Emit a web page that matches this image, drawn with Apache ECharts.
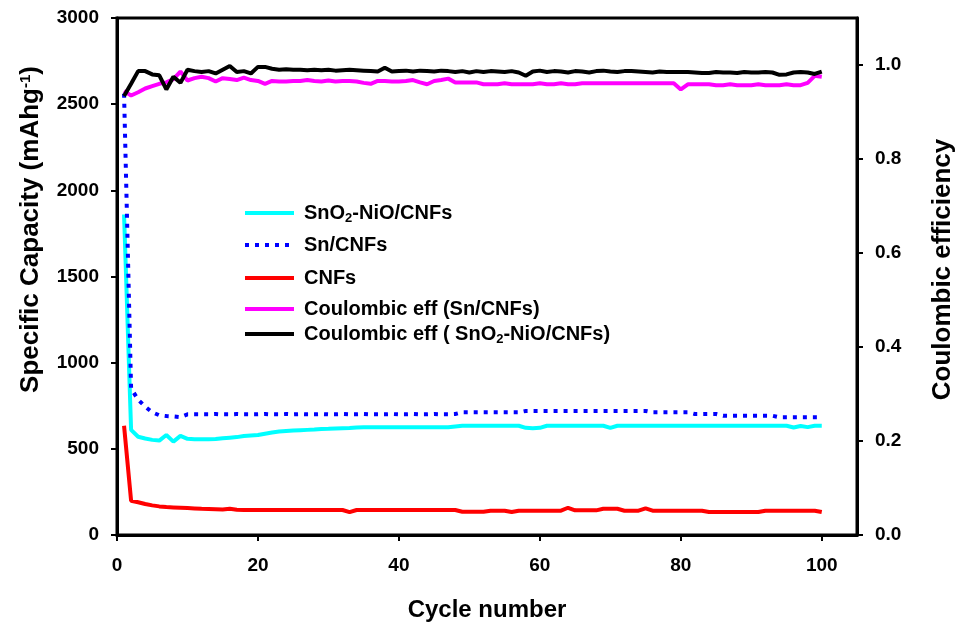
<!DOCTYPE html>
<html>
<head>
<meta charset="utf-8">
<script src="https://cdn.jsdelivr.net/npm/echarts@6/dist/echarts.min.js"></script>
<style>
  html, body { margin: 0; padding: 0; background: #fff; }
  #chart { width: 958px; height: 625px; }
</style>
</head>
<body>
<div id="chart"></div>
<script>
// Cycle index (x) shared by all series
const cycles = Array.from({ length: 100 }, (_, i) => i + 1);

// Specific capacity, mAh/g (left axis)
const capSnO2NiO = [1860,610,570,560,552,548,580,542,575,558,
  556,555,555,557,562,565,568,575,578,580,
  588,595,600,603,606,608,610,612,615,616,
  618,620,621,624,625,625,625,625,625,625,
  625,625,625,625,625,625,625,630,634,634,
  634,634,634,634,634,634,634,622,620,622,
  634,634,634,634,634,634,634,634,634,622,
  634,634,634,634,634,634,634,634,634,634,
  634,634,634,634,634,634,634,634,634,634,
  634,634,634,634,634,624,632,626,634,634];

const capSn = [2560,850,785,745,712,695,690,688,684,700,
  700,700,700,702,700,700,702,700,700,700,
  702,700,700,702,700,702,700,700,702,700,
  700,702,700,700,702,700,700,700,702,700,
  700,702,700,700,702,700,700,702,712,712,
  712,712,712,712,712,712,712,720,720,720,
  720,720,720,720,720,720,720,720,720,720,
  720,720,720,720,720,712,712,712,712,712,
  712,702,702,702,702,692,692,692,692,692,
  692,692,692,683,683,683,683,683,683,683];

const capCNF = [634,199,190,180,172,166,162,160,158,156,
  154,152,151,150,148,152,147,145,145,145,
  145,145,145,145,145,145,145,145,145,145,
  145,145,133,145,145,145,145,145,145,145,
  145,145,145,145,145,145,145,145,135,135,
  135,135,141,141,141,133,141,141,141,141,
  141,141,141,158,143,143,143,143,152,152,
  152,141,141,141,155,141,141,141,141,141,
  141,141,141,133,133,133,133,133,133,133,
  133,141,141,141,141,141,141,141,141,133];

// Coulombic efficiency (right axis)
const ceSn = [0.945,0.935,0.942,0.950,0.955,0.960,0.963,0.970,0.986,0.967,
  0.972,0.975,0.972,0.965,0.972,0.970,0.968,0.973,0.968,0.966,
  0.960,0.966,0.965,0.965,0.966,0.966,0.968,0.966,0.965,0.967,
  0.965,0.966,0.966,0.965,0.962,0.960,0.966,0.966,0.965,0.965,
  0.966,0.968,0.963,0.959,0.966,0.968,0.971,0.963,0.963,0.963,
  0.963,0.959,0.959,0.959,0.961,0.959,0.959,0.959,0.959,0.961,
  0.959,0.959,0.961,0.959,0.959,0.961,0.961,0.961,0.961,0.961,
  0.961,0.961,0.961,0.961,0.961,0.961,0.961,0.961,0.961,0.948,
  0.959,0.959,0.959,0.959,0.957,0.957,0.959,0.957,0.957,0.957,
  0.959,0.957,0.957,0.957,0.959,0.957,0.957,0.962,0.977,0.975];

const ceSnO2NiO = [0.934,0.960,0.987,0.987,0.980,0.978,0.948,0.975,0.962,0.990,
  0.987,0.985,0.987,0.982,0.990,0.998,0.985,0.987,0.982,0.996,
  0.996,0.992,0.990,0.991,0.990,0.990,0.989,0.990,0.989,0.990,
  0.988,0.989,0.990,0.989,0.988,0.987,0.986,0.994,0.986,0.987,
  0.988,0.986,0.988,0.987,0.986,0.988,0.987,0.985,0.987,0.984,
  0.987,0.985,0.987,0.986,0.985,0.987,0.984,0.977,0.986,0.988,
  0.985,0.987,0.986,0.984,0.987,0.986,0.984,0.987,0.988,0.986,
  0.985,0.987,0.987,0.986,0.985,0.984,0.986,0.985,0.985,0.985,
  0.985,0.984,0.983,0.983,0.985,0.984,0.984,0.983,0.985,0.984,
  0.984,0.985,0.984,0.979,0.980,0.984,0.985,0.984,0.981,0.986];

// Tick positions
const xTicks = [0, 20, 40, 60, 80, 100];
const ceTicks = [0, 0.2, 0.4, 0.6, 0.8, 1.0];

const seriesNames = ['SnO2-NiO/CNFs', 'Sn/CNFs', 'CNFs',
  'Coulombic eff (Sn/CNFs)', 'Coulombic eff ( SnO2-NiO/CNFs)'];

const FONT = '"Liberation Sans", Arial, Helvetica, sans-serif';

function pairs(ys) { return cycles.map((c, i) => [c, ys[i]]); }

// Legend text with a real subscript for "O2"
function legendLabel(name) {
  const parts = name.split('SnO2');
  if (parts.length === 1) return '{t|' + name + '}';
  return '{t|' + parts[0] + 'SnO}{sub|2}{t|' + parts[1] + '}';
}

const chart = echarts.init(document.getElementById('chart'), null, { renderer: 'canvas' });

const axisLine = { show: true, lineStyle: { color: '#000', width: 3 } };
const axisTick = { show: true, length: 6, lineStyle: { color: '#000', width: 2 } };
const tickLabel = { color: '#000', fontFamily: FONT, fontWeight: 'bold', fontSize: 19, margin: 18 };

// One legend block per entry, rows spaced as in the figure
const legendTops = [203, 235, 268, 299, 324];
const legends = seriesNames.map((name, i) => ({
  orient: 'vertical',
  left: 243, top: legendTops[i], padding: 0,
  itemWidth: 49, itemHeight: 14,
  data: [name],
  selectedMode: false,
  formatter: legendLabel,
  itemStyle: { opacity: 0 },
  lineStyle: { width: 4 },
  textStyle: {
    color: '#000', fontFamily: FONT, fontWeight: 'bold', fontSize: 20,
    padding: [0, 0, 0, 5],
    rich: {
      t: { color: '#000', fontFamily: FONT, fontWeight: 'bold', fontSize: 20, lineHeight: 24 },
      sub: { color: '#000', fontFamily: FONT, fontWeight: 'bold', fontSize: 13, lineHeight: 13, verticalAlign: 'bottom' }
    }
  }
}));

chart.setOption({
  animation: false,
  backgroundColor: '#fff',
  grid: {
    left: 117, right: 101, top: 18, bottom: 90,
    outerBoundsMode: 'none',
    show: true, borderColor: '#000', borderWidth: 3, backgroundColor: 'transparent'
  },
  legend: legends,
  xAxis: {
    type: 'value', min: 0, max: 105,
    name: 'Cycle number', nameLocation: 'middle', nameGap: 63,
    nameTextStyle: { color: '#000', fontFamily: FONT, fontWeight: 'bold', fontSize: 24 },
    axisLine, axisTick: Object.assign({ customValues: xTicks }, axisTick),
    axisLabel: Object.assign({ customValues: xTicks }, tickLabel, { margin: 21 }),
    splitLine: { show: false }
  },
  yAxis: [
    {
      type: 'value', min: 0, max: 3000, interval: 500, position: 'left',
      name: 'Specific Capacity (mAhg{sup|-1})', nameLocation: 'middle', nameGap: 73,
      nameTextStyle: {
        color: '#000', fontFamily: FONT, fontWeight: 'bold', fontSize: 26,
        padding: [0, 0, 0, 94],
        rich: {
          sup: { color: '#000', fontFamily: FONT, fontWeight: 'bold', fontSize: 15, verticalAlign: 'top', lineHeight: 15 }
        }
      },
      axisLine, axisTick,
      axisLabel: Object.assign({ formatter: v => String(v) }, tickLabel),
      splitLine: { show: false }
    },
    {
      type: 'value', min: 0, max: 1.1, position: 'right',
      name: 'Coulombic efficiency', nameLocation: 'middle', nameGap: 73,
      nameTextStyle: {
        color: '#000', fontFamily: FONT, fontWeight: 'bold', fontSize: 26,
        padding: [0, 0, 0, 14]
      },
      axisLine, axisTick: Object.assign({ customValues: ceTicks }, axisTick),
      axisLabel: Object.assign({ customValues: ceTicks, formatter: v => v.toFixed(1) }, tickLabel),
      splitLine: { show: false }
    }
  ],
  series: [
    {
      name: seriesNames[0], type: 'line', yAxisIndex: 0, symbol: 'none',
      data: pairs(capSnO2NiO), color: '#00FFFF',
      lineStyle: { color: '#00FFFF', width: 4 }
    },
    {
      name: seriesNames[1], type: 'line', yAxisIndex: 0, symbol: 'none',
      data: pairs(capSn), color: '#0000FF',
      lineStyle: { color: '#0000FF', width: 4, type: [4, 6], cap: 'butt' }
    },
    {
      name: seriesNames[2], type: 'line', yAxisIndex: 0, symbol: 'none',
      data: pairs(capCNF), color: '#FF0000',
      lineStyle: { color: '#FF0000', width: 4 }
    },
    {
      name: seriesNames[3], type: 'line', yAxisIndex: 1, symbol: 'none',
      data: pairs(ceSn), color: '#FF00FF',
      lineStyle: { color: '#FF00FF', width: 4 }
    },
    {
      name: seriesNames[4], type: 'line', yAxisIndex: 1, symbol: 'none',
      data: pairs(ceSnO2NiO), color: '#000000',
      lineStyle: { color: '#000000', width: 4 }
    }
  ]
});
</script>
</body>
</html>
